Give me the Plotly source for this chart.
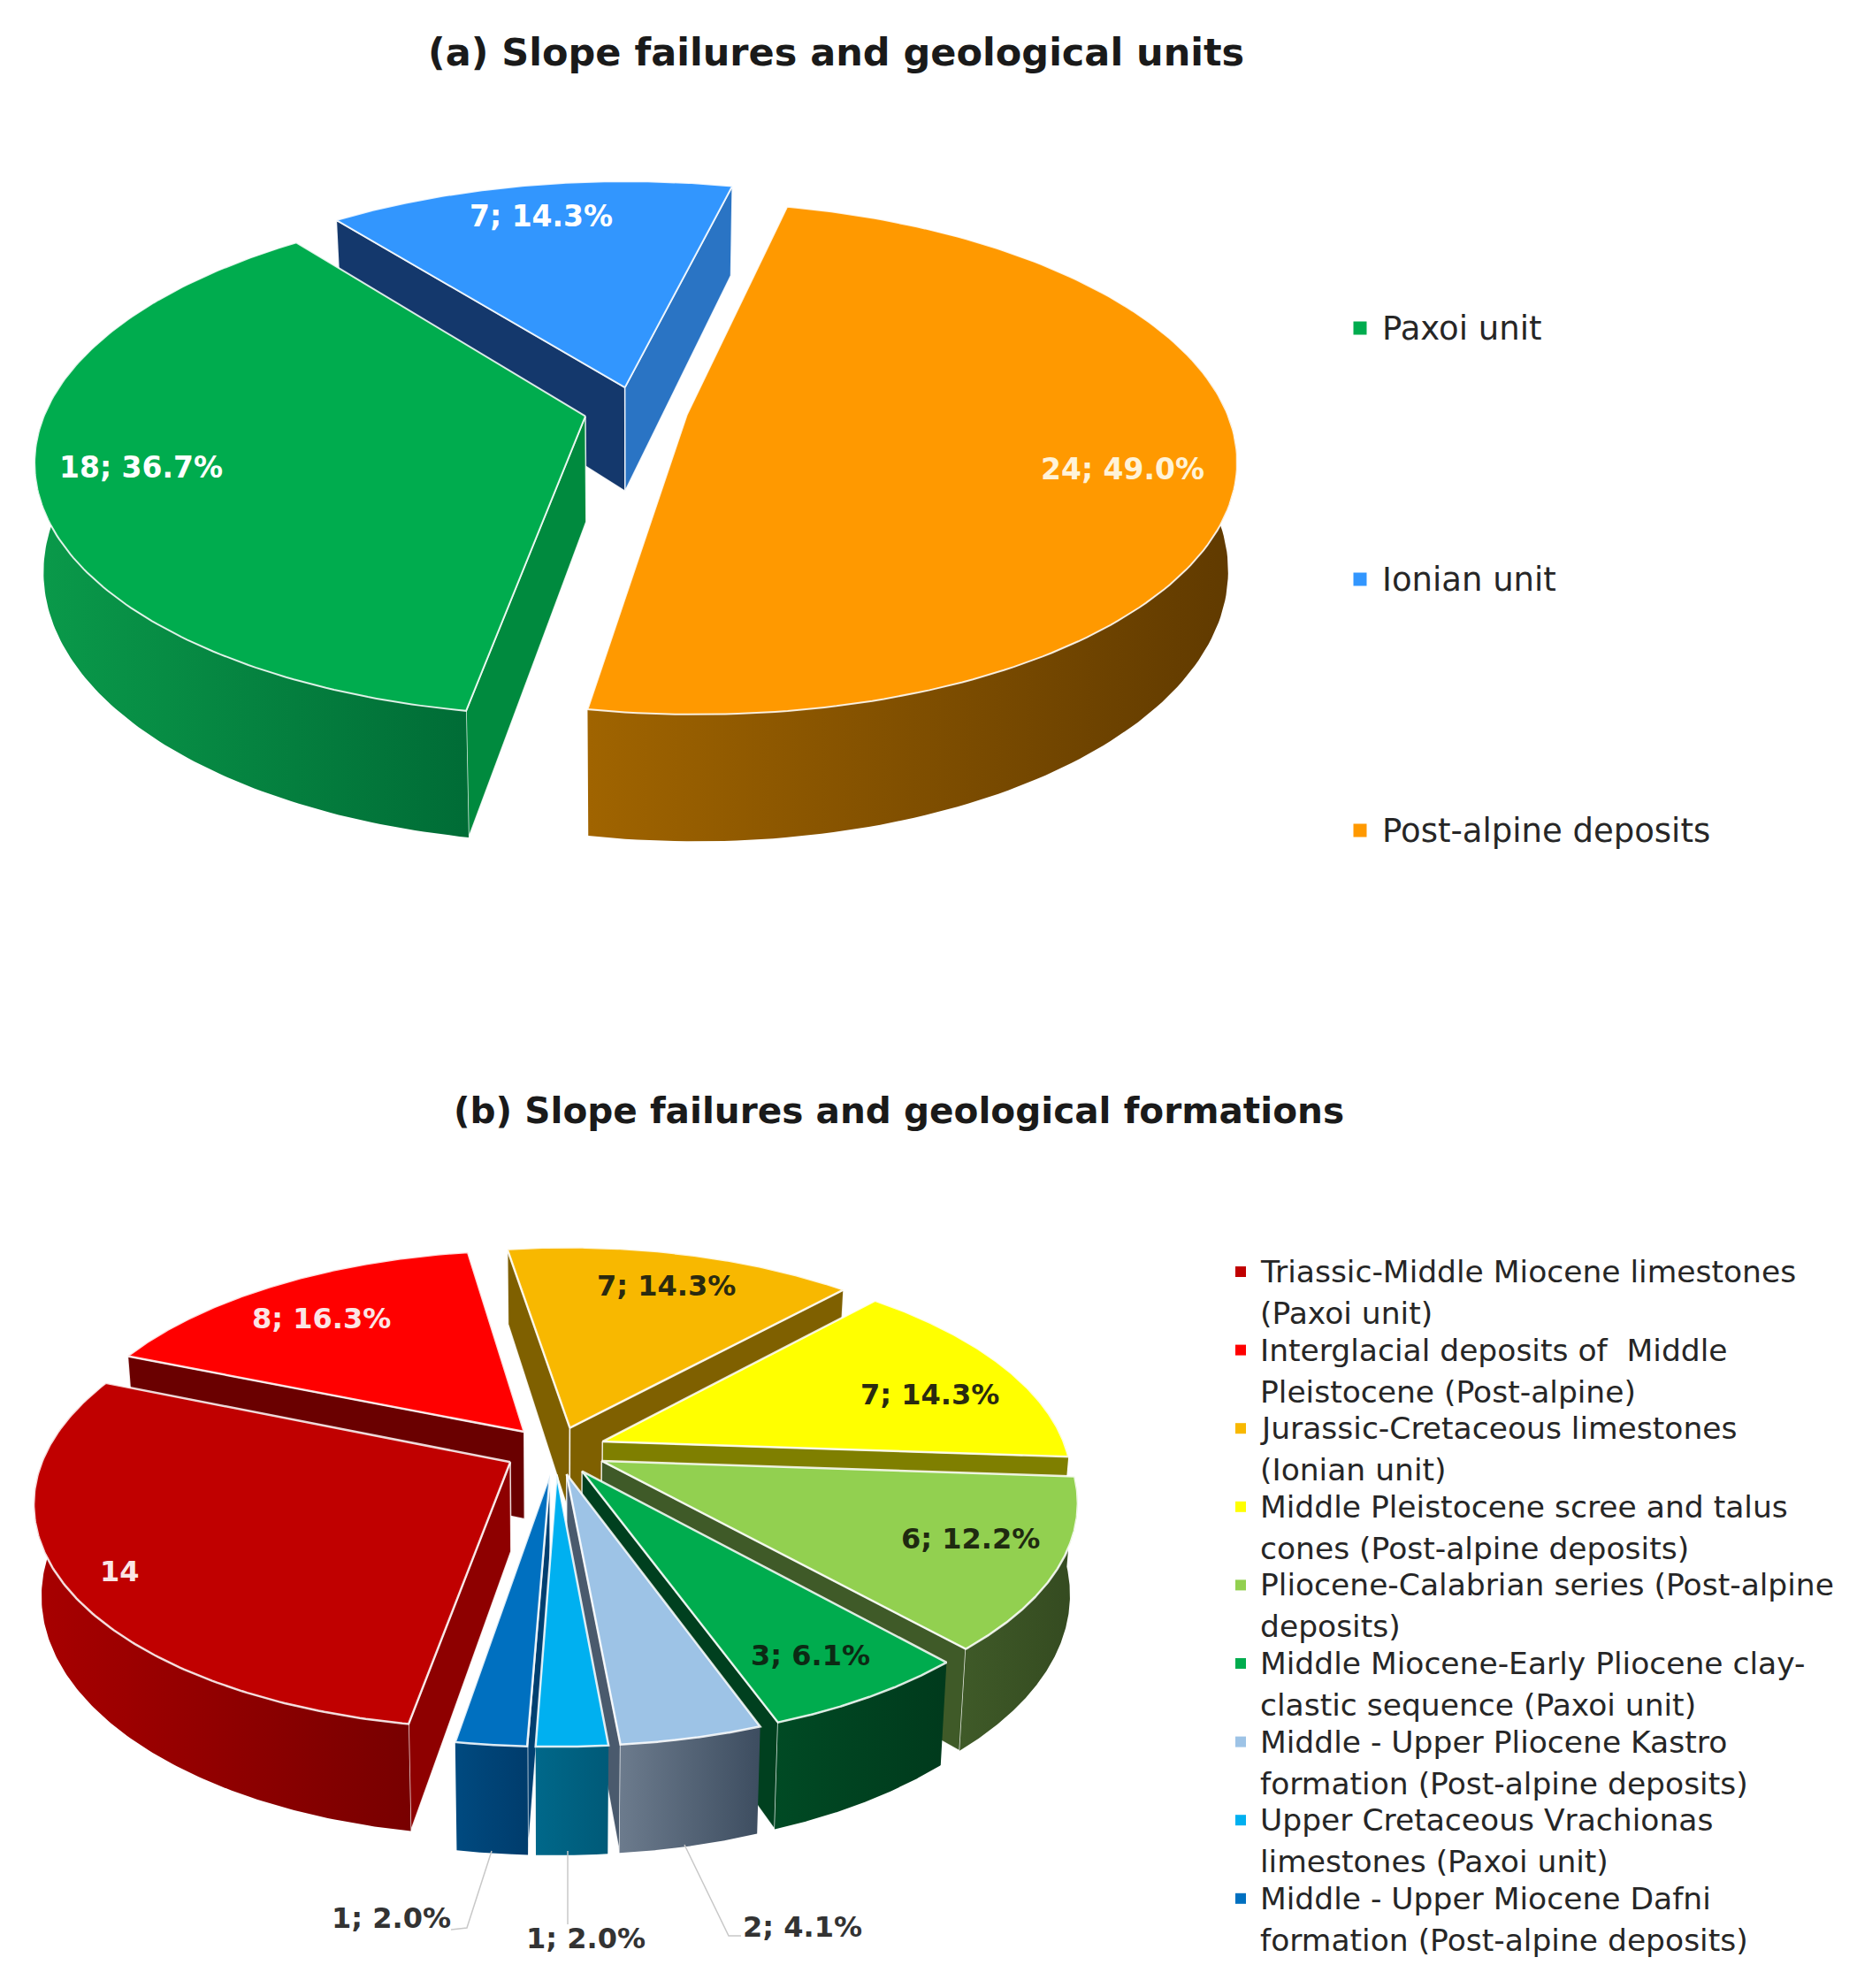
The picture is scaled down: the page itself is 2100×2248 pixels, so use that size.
import numpy as np
import plotly.graph_objects as go

# (a) geological units, clockwise from the bottom of the pie
unit_names = ['Paxoi unit', 'Ionian unit', 'Post-alpine deposits']
unit_values = [18, 7, 24]
unit_top = ['#00ac4e', '#3296fe', '#ff9900']
unit_rim = [('#0a9a4a', '#006c36'), ('#2a74c4', '#2a74c4'), ('#a06400', '#603a00')]
unit_start_wall = ['#008a3e', '#14386c', '#8a5500']
unit_end_wall = ['#008a3e', '#2a74c4', '#8a5500']

# (b) geological formations
form_names = [
    ['Triassic-Middle Miocene limestones', '(Paxoi unit)'],
    ['Interglacial deposits of  Middle', 'Pleistocene (Post-alpine)'],
    ['Jurassic-Cretaceous limestones', '(Ionian unit)'],
    ['Middle Pleistocene scree and talus', 'cones (Post-alpine deposits)'],
    ['Pliocene-Calabrian series (Post-alpine', 'deposits)'],
    ['Middle Miocene-Early Pliocene clay-', 'clastic sequence (Paxoi unit)'],
    ['Middle - Upper Pliocene Kastro', 'formation (Post-alpine deposits)'],
    ['Upper Cretaceous Vrachionas', 'limestones (Paxoi unit)'],
    ['Middle - Upper Miocene Dafni', 'formation (Post-alpine deposits)'],
]
form_values = [14, 8, 7, 7, 6, 3, 2, 1, 1]
form_top = ['#c00000', '#ff0000', '#f8b800', '#ffff00', '#92d050',
            '#00ac4e', '#9dc3e6', '#00b0f0', '#0070c0']
form_wall = ['#8e0000', '#6a0000', '#7f6000', '#7f7f00', '#3f5a28',
             '#00401f', '#4a5a6d', '#005f80', '#003f70']
form_rim = [('#a80000', '#780000'), ('#6a0000', '#6a0000'), ('#7f6000', '#7f6000'),
            ('#7f7f00', '#7f7f00'), ('#3f5a28', '#344a20'), ('#004a24', '#003a1c'),
            ('#6c7b8d', '#3d4d60'), ('#00688a', '#005a78'), ('#004a80', '#003c6c')]

EDGE = 'rgba(255,255,255,0.85)'


def project(pie, mid, th, r=1.0):
    # exploded point on the disc, then a simple perspective on to the page
    u = pie['e'] * np.sin(mid) + r * np.sin(th)
    v = -pie['e'] * np.cos(mid) - r * np.cos(th)
    s = 1 / (1 - pie['p'] * v)
    return pie['cx'] + pie['R'] * u * s, pie['cy'] + pie['ry'] * v * s, s


def poly(xs, ys, color=None, line=EDGE, width=1.5, grad=None):
    xs = list(xs) + [xs[0]]
    ys = list(ys) + [ys[0]]
    kw = dict(fillcolor=color)
    if grad:
        kw = dict(fillgradient=dict(type='horizontal', colorscale=[[0, grad[0]], [1, grad[1]]]))
    return go.Scatter(x=xs, y=ys, mode='lines', fill='toself', line=dict(color=line, width=width),
                      hoverinfo='skip', showlegend=False, **kw)


def draw_pie(fig, values, pie, top, start_wall, end_wall, rim):
    total = sum(values)
    edges = np.radians(pie['start']) + np.cumsum([0] + list(values)) / total * 2 * np.pi
    mids = (edges[:-1] + edges[1:]) / 2

    def lower(x):
        # the bottom of the pie is a little narrower than the top
        return pie['cx'] + (np.asarray(x) - pie['cx']) * pie['taper']

    # back slices first, front slices painted over them
    for i in np.argsort(-np.cos(mids)):
        a, b, mid = edges[i], edges[i + 1], mids[i]
        d = pie['d']
        x0, y0, s0 = project(pie, mid, a, 0.0)
        if np.sin(a) < 0:
            x1, y1, s1 = project(pie, mid, a)
            fig.add_trace(poly([x0, x1, lower(x1), lower(x0)], [y0, y1, y1 + d * s1, y0 + d * s0], start_wall[i]))
        if np.sin(b) > 0:
            x1, y1, s1 = project(pie, mid, b)
            fig.add_trace(poly([x0, x1, lower(x1), lower(x0)], [y0, y1, y1 + d * s1, y0 + d * s0], end_wall[i]))
        th = np.linspace(a, b, 160)
        th_front = th[np.cos(th) < 0.26]
        if len(th_front) > 1:
            x, y, s = project(pie, mid, th_front)
            fig.add_trace(poly(list(x) + list(lower(x)[::-1]), list(y) + list((y + d * s)[::-1]),
                               line='rgba(0,0,0,0)', width=0, grad=rim[i]))
        x, y, s = project(pie, mid, th)
        fig.add_trace(poly([x0] + list(x), [y0] + list(y), top[i], width=pie['edge']))


pie_a = dict(cx=719, cy=464, R=610, ry=280, p=0.167, e=0.096, d=119, start=189.7, taper=0.985, edge=2)
pie_b = dict(cx=628, cy=1640, R=525, ry=246, p=0.167, e=0.11, d=100, start=189.5, taper=0.985, edge=2.5)

fig = go.Figure()
draw_pie(fig, unit_values, pie_a, unit_top, unit_start_wall, unit_end_wall, unit_rim)
draw_pie(fig, form_values, pie_b, form_top, form_wall, form_wall, form_rim)


def note(x, y, text, size, color='#222222', bold=False, anchor='center'):
    fig.add_annotation(x=x, y=y, xref='x', yref='y', text=f'<b>{text}</b>' if bold else text,
                       showarrow=False, xanchor=anchor, yanchor='middle',
                       font=dict(family='DejaVu Sans', size=size, color=color))


def pct(v, total):
    return f'{v}; {v / total * 100:.1f}%'


note(945, 59, '(a) Slope failures and geological units', 43, '#1a1a1a', True)
note(1016, 1256, '(b) Slope failures and geological formations', 40.6, '#1a1a1a', True)

# data labels
unit_label_pos = [(159, 528), (612, 244), (1269, 530)]
unit_label_col = ['white', 'white', '#fff3d8']
for v, (lx, ly), c in zip(unit_values, unit_label_pos, unit_label_col):
    note(lx, ly, pct(v, sum(unit_values)), 33, c, True)

form_label_pos = [(135, 1777), (363, 1491), (753, 1454), (1051, 1577), (1097, 1740),
                  (916, 1872), (907, 2179), (662, 2192), (442, 2169)]
form_label_col = ['#fbe5e5', '#fbe5e5', '#2a2a10', '#2a2a10', '#1f2a10',
                  '#0c2a14', '#333333', '#333333', '#333333']
for i, (v, (lx, ly), c) in enumerate(zip(form_values, form_label_pos, form_label_col)):
    note(lx, ly, '14' if i == 0 else pct(v, sum(form_values)), 32, c, True)

# leader lines of the three small slices
leader_x = [[556, 528, 510], [642, 642], [774, 824, 838]]
leader_y = [[2093, 2180, 2182], [2093, 2176], [2086, 2189, 2189]]
for lx, ly in zip(leader_x, leader_y):
    fig.add_trace(go.Scatter(x=lx, y=ly, mode='lines', line=dict(color='#c8c8c8', width=1.5),
                             hoverinfo='skip', showlegend=False))

# legends
unit_legend_y = [371, 655, 939]
fig.add_trace(go.Scatter(x=[1538] * 3, y=unit_legend_y, mode='markers', hoverinfo='skip', showlegend=False,
                         marker=dict(symbol='square', size=15, color=unit_top)))
for name, ly in zip(unit_names, unit_legend_y):
    note(1561, ly, name, 37, '#262626', anchor='left')

form_legend_y = [1438 + 88.6 * i for i in range(len(form_names))]
fig.add_trace(go.Scatter(x=[1403] * 9, y=form_legend_y, mode='markers', hoverinfo='skip', showlegend=False,
                         marker=dict(symbol='square', size=12, color=form_top)))
for lines, ly in zip(form_names, form_legend_y):
    note(1423, ly, lines[0], 34.5, '#262626', anchor='left')
    note(1423, ly + 47, lines[1], 34.5, '#262626', anchor='left')

fig.update_layout(
    width=2100, height=2248,
    margin=dict(l=0, r=0, t=0, b=0),
    paper_bgcolor='white', plot_bgcolor='white',
    xaxis=dict(range=[0, 2100], visible=False, fixedrange=True),
    yaxis=dict(range=[2248, 0], visible=False, fixedrange=True),
    showlegend=False,
)

fig.write_html('out.html', config=dict(displayModeBar=False),
               post_script="document.body.style.margin='0';")
